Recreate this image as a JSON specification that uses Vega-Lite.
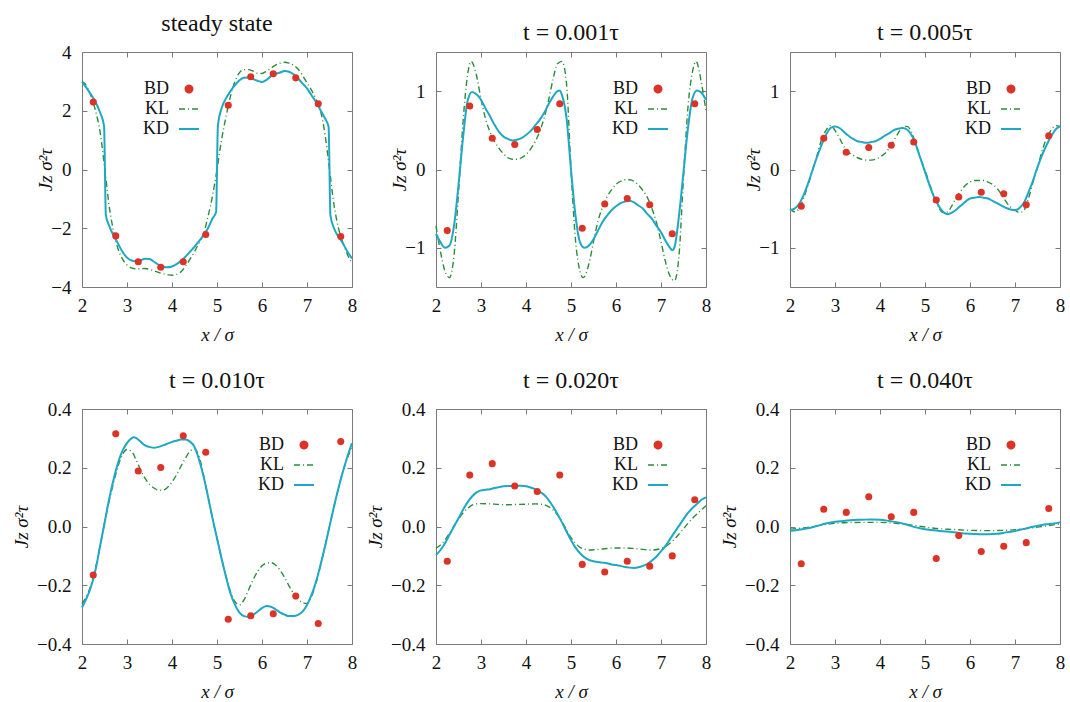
{
"$schema": "https://vega.github.io/schema/vega-lite/v6.json",
"autosize": {"type": "pad"},
"padding": {"left": 12, "top": 11, "right": 0, "bottom": 0},
"background": "white",
"columns": 3,
"spacing": {"row": 122, "column": 84},
"bounds": "flush",
"resolve": {"scale": {"color": "independent", "x": "independent", "y": "independent"}, "legend": {"color": "independent"}},
"data": {"values": [
{"p":1,"s":"BD","x":2.25,"y":2.3},{"p":1,"s":"BD","x":2.75,"y":-2.26},{"p":1,"s":"BD","x":3.25,"y":-3.14},{"p":1,"s":"BD","x":3.75,"y":-3.33},{"p":1,"s":"BD","x":4.25,"y":-3.14},{"p":1,"s":"BD","x":4.75,"y":-2.21},{"p":1,"s":"BD","x":5.25,"y":2.19},{"p":1,"s":"BD","x":5.75,"y":3.16},{"p":1,"s":"BD","x":6.25,"y":3.26},{"p":1,"s":"BD","x":6.75,"y":3.12},{"p":1,"s":"BD","x":7.25,"y":2.24},{"p":1,"s":"BD","x":7.75,"y":-2.28},
{"p":1,"s":"KD","x":2,"y":2.98},{"p":1,"s":"KD","x":2.1,"y":2.78},{"p":1,"s":"KD","x":2.2,"y":2.55},{"p":1,"s":"KD","x":2.3,"y":2.3},{"p":1,"s":"KD","x":2.4,"y":1.95},{"p":1,"s":"KD","x":2.49,"y":1.48},{"p":1,"s":"KD","x":2.53,"y":-1.55},{"p":1,"s":"KD","x":2.6,"y":-1.9},{"p":1,"s":"KD","x":2.7,"y":-2.24},{"p":1,"s":"KD","x":2.8,"y":-2.52},{"p":1,"s":"KD","x":2.9,"y":-2.8},{"p":1,"s":"KD","x":3.0,"y":-3.0},{"p":1,"s":"KD","x":3.1,"y":-3.1},{"p":1,"s":"KD","x":3.2,"y":-3.12},{"p":1,"s":"KD","x":3.3,"y":-3.09},{"p":1,"s":"KD","x":3.4,"y":-3.04},{"p":1,"s":"KD","x":3.5,"y":-3.05},{"p":1,"s":"KD","x":3.6,"y":-3.14},{"p":1,"s":"KD","x":3.7,"y":-3.24},{"p":1,"s":"KD","x":3.8,"y":-3.3},{"p":1,"s":"KD","x":3.9,"y":-3.33},{"p":1,"s":"KD","x":4.0,"y":-3.3},{"p":1,"s":"KD","x":4.1,"y":-3.22},{"p":1,"s":"KD","x":4.2,"y":-3.11},{"p":1,"s":"KD","x":4.3,"y":-2.97},{"p":1,"s":"KD","x":4.4,"y":-2.8},{"p":1,"s":"KD","x":4.5,"y":-2.63},{"p":1,"s":"KD","x":4.6,"y":-2.44},{"p":1,"s":"KD","x":4.7,"y":-2.24},{"p":1,"s":"KD","x":4.8,"y":-2.0},{"p":1,"s":"KD","x":4.9,"y":-1.67},{"p":1,"s":"KD","x":4.98,"y":-1.45},{"p":1,"s":"KD","x":5.02,"y":1.5},{"p":1,"s":"KD","x":5.1,"y":2.08},{"p":1,"s":"KD","x":5.2,"y":2.42},{"p":1,"s":"KD","x":5.3,"y":2.67},{"p":1,"s":"KD","x":5.4,"y":2.87},{"p":1,"s":"KD","x":5.5,"y":3.04},{"p":1,"s":"KD","x":5.6,"y":3.12},{"p":1,"s":"KD","x":5.7,"y":3.13},{"p":1,"s":"KD","x":5.8,"y":3.08},{"p":1,"s":"KD","x":5.9,"y":3.02},{"p":1,"s":"KD","x":6.0,"y":2.98},{"p":1,"s":"KD","x":6.1,"y":3.05},{"p":1,"s":"KD","x":6.2,"y":3.18},{"p":1,"s":"KD","x":6.3,"y":3.25},{"p":1,"s":"KD","x":6.4,"y":3.3},{"p":1,"s":"KD","x":6.5,"y":3.35},{"p":1,"s":"KD","x":6.6,"y":3.33},{"p":1,"s":"KD","x":6.7,"y":3.24},{"p":1,"s":"KD","x":6.8,"y":3.1},{"p":1,"s":"KD","x":6.9,"y":2.93},{"p":1,"s":"KD","x":7.0,"y":2.76},{"p":1,"s":"KD","x":7.1,"y":2.53},{"p":1,"s":"KD","x":7.2,"y":2.3},{"p":1,"s":"KD","x":7.3,"y":2.02},{"p":1,"s":"KD","x":7.4,"y":1.74},{"p":1,"s":"KD","x":7.48,"y":1.45},{"p":1,"s":"KD","x":7.52,"y":-1.55},{"p":1,"s":"KD","x":7.6,"y":-2.0},{"p":1,"s":"KD","x":7.7,"y":-2.29},{"p":1,"s":"KD","x":7.8,"y":-2.52},{"p":1,"s":"KD","x":7.9,"y":-2.8},{"p":1,"s":"KD","x":8.0,"y":-3.03},
{"p":1,"s":"KL","x":2,"y":3.0},{"p":1,"s":"KL","x":2.1,"y":2.85},{"p":1,"s":"KL","x":2.2,"y":2.5},{"p":1,"s":"KL","x":2.3,"y":2.0},{"p":1,"s":"KL","x":2.4,"y":1.3},{"p":1,"s":"KL","x":2.5,"y":0.1},{"p":1,"s":"KL","x":2.6,"y":-1.2},{"p":1,"s":"KL","x":2.7,"y":-2.1},{"p":1,"s":"KL","x":2.8,"y":-2.7},{"p":1,"s":"KL","x":2.9,"y":-3.05},{"p":1,"s":"KL","x":3.0,"y":-3.25},{"p":1,"s":"KL","x":3.1,"y":-3.35},{"p":1,"s":"KL","x":3.2,"y":-3.38},{"p":1,"s":"KL","x":3.3,"y":-3.38},{"p":1,"s":"KL","x":3.4,"y":-3.37},{"p":1,"s":"KL","x":3.5,"y":-3.4},{"p":1,"s":"KL","x":3.6,"y":-3.45},{"p":1,"s":"KL","x":3.7,"y":-3.5},{"p":1,"s":"KL","x":3.8,"y":-3.55},{"p":1,"s":"KL","x":3.9,"y":-3.58},{"p":1,"s":"KL","x":4.0,"y":-3.6},{"p":1,"s":"KL","x":4.1,"y":-3.57},{"p":1,"s":"KL","x":4.2,"y":-3.48},{"p":1,"s":"KL","x":4.3,"y":-3.3},{"p":1,"s":"KL","x":4.4,"y":-3.05},{"p":1,"s":"KL","x":4.5,"y":-2.8},{"p":1,"s":"KL","x":4.6,"y":-2.5},{"p":1,"s":"KL","x":4.7,"y":-2.2},{"p":1,"s":"KL","x":4.8,"y":-1.6},{"p":1,"s":"KL","x":4.9,"y":-0.9},{"p":1,"s":"KL","x":5.0,"y":0.0},{"p":1,"s":"KL","x":5.1,"y":1.0},{"p":1,"s":"KL","x":5.2,"y":1.8},{"p":1,"s":"KL","x":5.3,"y":2.5},{"p":1,"s":"KL","x":5.4,"y":3.0},{"p":1,"s":"KL","x":5.5,"y":3.3},{"p":1,"s":"KL","x":5.6,"y":3.4},{"p":1,"s":"KL","x":5.7,"y":3.4},{"p":1,"s":"KL","x":5.8,"y":3.35},{"p":1,"s":"KL","x":5.9,"y":3.28},{"p":1,"s":"KL","x":6.0,"y":3.27},{"p":1,"s":"KL","x":6.1,"y":3.35},{"p":1,"s":"KL","x":6.2,"y":3.45},{"p":1,"s":"KL","x":6.3,"y":3.55},{"p":1,"s":"KL","x":6.4,"y":3.62},{"p":1,"s":"KL","x":6.5,"y":3.65},{"p":1,"s":"KL","x":6.6,"y":3.62},{"p":1,"s":"KL","x":6.7,"y":3.55},{"p":1,"s":"KL","x":6.8,"y":3.42},{"p":1,"s":"KL","x":6.9,"y":3.2},{"p":1,"s":"KL","x":7.0,"y":2.95},{"p":1,"s":"KL","x":7.1,"y":2.7},{"p":1,"s":"KL","x":7.2,"y":2.4},{"p":1,"s":"KL","x":7.3,"y":2.0},{"p":1,"s":"KL","x":7.4,"y":1.2},{"p":1,"s":"KL","x":7.5,"y":0.0},{"p":1,"s":"KL","x":7.6,"y":-1.2},{"p":1,"s":"KL","x":7.7,"y":-2.0},{"p":1,"s":"KL","x":7.8,"y":-2.5},{"p":1,"s":"KL","x":7.9,"y":-2.9},{"p":1,"s":"KL","x":8.0,"y":-3.2},
{"p":2,"s":"BD","x":2.25,"y":-0.78},{"p":2,"s":"BD","x":2.75,"y":0.81},{"p":2,"s":"BD","x":3.25,"y":0.4},{"p":2,"s":"BD","x":3.75,"y":0.32},{"p":2,"s":"BD","x":4.25,"y":0.51},{"p":2,"s":"BD","x":4.75,"y":0.84},{"p":2,"s":"BD","x":5.25,"y":-0.75},{"p":2,"s":"BD","x":5.75,"y":-0.44},{"p":2,"s":"BD","x":6.25,"y":-0.37},{"p":2,"s":"BD","x":6.75,"y":-0.45},{"p":2,"s":"BD","x":7.25,"y":-0.82},{"p":2,"s":"BD","x":7.75,"y":0.84},
{"p":2,"s":"KD","x":2,"y":-0.82},{"p":2,"s":"KD","x":2.1,"y":-0.93},{"p":2,"s":"KD","x":2.2,"y":-1.0},{"p":2,"s":"KD","x":2.3,"y":-0.97},{"p":2,"s":"KD","x":2.4,"y":-0.72},{"p":2,"s":"KD","x":2.5,"y":-0.2},{"p":2,"s":"KD","x":2.6,"y":0.4},{"p":2,"s":"KD","x":2.7,"y":0.87},{"p":2,"s":"KD","x":2.8,"y":0.99},{"p":2,"s":"KD","x":2.9,"y":0.96},{"p":2,"s":"KD","x":3.0,"y":0.89},{"p":2,"s":"KD","x":3.1,"y":0.78},{"p":2,"s":"KD","x":3.2,"y":0.68},{"p":2,"s":"KD","x":3.3,"y":0.57},{"p":2,"s":"KD","x":3.4,"y":0.48},{"p":2,"s":"KD","x":3.5,"y":0.42},{"p":2,"s":"KD","x":3.6,"y":0.39},{"p":2,"s":"KD","x":3.7,"y":0.37},{"p":2,"s":"KD","x":3.8,"y":0.38},{"p":2,"s":"KD","x":3.9,"y":0.4},{"p":2,"s":"KD","x":4.0,"y":0.44},{"p":2,"s":"KD","x":4.1,"y":0.49},{"p":2,"s":"KD","x":4.2,"y":0.56},{"p":2,"s":"KD","x":4.3,"y":0.63},{"p":2,"s":"KD","x":4.4,"y":0.72},{"p":2,"s":"KD","x":4.5,"y":0.83},{"p":2,"s":"KD","x":4.6,"y":0.93},{"p":2,"s":"KD","x":4.7,"y":1.0},{"p":2,"s":"KD","x":4.75,"y":1.01},{"p":2,"s":"KD","x":4.8,"y":0.95},{"p":2,"s":"KD","x":4.9,"y":0.66},{"p":2,"s":"KD","x":5.0,"y":0.0},{"p":2,"s":"KD","x":5.1,"y":-0.59},{"p":2,"s":"KD","x":5.2,"y":-0.93},{"p":2,"s":"KD","x":5.3,"y":-1.0},{"p":2,"s":"KD","x":5.4,"y":-0.97},{"p":2,"s":"KD","x":5.5,"y":-0.89},{"p":2,"s":"KD","x":5.6,"y":-0.78},{"p":2,"s":"KD","x":5.7,"y":-0.67},{"p":2,"s":"KD","x":5.8,"y":-0.59},{"p":2,"s":"KD","x":5.9,"y":-0.52},{"p":2,"s":"KD","x":6.0,"y":-0.47},{"p":2,"s":"KD","x":6.1,"y":-0.43},{"p":2,"s":"KD","x":6.2,"y":-0.41},{"p":2,"s":"KD","x":6.3,"y":-0.4},{"p":2,"s":"KD","x":6.4,"y":-0.42},{"p":2,"s":"KD","x":6.5,"y":-0.46},{"p":2,"s":"KD","x":6.6,"y":-0.5},{"p":2,"s":"KD","x":6.7,"y":-0.57},{"p":2,"s":"KD","x":6.8,"y":-0.63},{"p":2,"s":"KD","x":6.9,"y":-0.72},{"p":2,"s":"KD","x":7.0,"y":-0.8},{"p":2,"s":"KD","x":7.1,"y":-0.91},{"p":2,"s":"KD","x":7.2,"y":-1.0},{"p":2,"s":"KD","x":7.25,"y":-1.03},{"p":2,"s":"KD","x":7.3,"y":-0.99},{"p":2,"s":"KD","x":7.4,"y":-0.59},{"p":2,"s":"KD","x":7.5,"y":-0.03},{"p":2,"s":"KD","x":7.6,"y":0.53},{"p":2,"s":"KD","x":7.7,"y":0.91},{"p":2,"s":"KD","x":7.8,"y":1.01},{"p":2,"s":"KD","x":7.9,"y":0.98},{"p":2,"s":"KD","x":8.0,"y":0.89},
{"p":2,"s":"KL","x":2,"y":-0.72},{"p":2,"s":"KL","x":2.1,"y":-1.05},{"p":2,"s":"KL","x":2.2,"y":-1.3},{"p":2,"s":"KL","x":2.3,"y":-1.38},{"p":2,"s":"KL","x":2.4,"y":-1.1},{"p":2,"s":"KL","x":2.5,"y":-0.3},{"p":2,"s":"KL","x":2.6,"y":0.6},{"p":2,"s":"KL","x":2.7,"y":1.2},{"p":2,"s":"KL","x":2.78,"y":1.38},{"p":2,"s":"KL","x":2.9,"y":1.2},{"p":2,"s":"KL","x":3.0,"y":0.9},{"p":2,"s":"KL","x":3.1,"y":0.65},{"p":2,"s":"KL","x":3.2,"y":0.48},{"p":2,"s":"KL","x":3.3,"y":0.36},{"p":2,"s":"KL","x":3.4,"y":0.27},{"p":2,"s":"KL","x":3.5,"y":0.2},{"p":2,"s":"KL","x":3.6,"y":0.15},{"p":2,"s":"KL","x":3.7,"y":0.13},{"p":2,"s":"KL","x":3.8,"y":0.13},{"p":2,"s":"KL","x":3.9,"y":0.15},{"p":2,"s":"KL","x":4.0,"y":0.19},{"p":2,"s":"KL","x":4.1,"y":0.26},{"p":2,"s":"KL","x":4.2,"y":0.35},{"p":2,"s":"KL","x":4.3,"y":0.48},{"p":2,"s":"KL","x":4.4,"y":0.65},{"p":2,"s":"KL","x":4.5,"y":0.88},{"p":2,"s":"KL","x":4.6,"y":1.15},{"p":2,"s":"KL","x":4.7,"y":1.35},{"p":2,"s":"KL","x":4.8,"y":1.38},{"p":2,"s":"KL","x":4.9,"y":1.1},{"p":2,"s":"KL","x":5.0,"y":0.0},{"p":2,"s":"KL","x":5.1,"y":-0.9},{"p":2,"s":"KL","x":5.2,"y":-1.3},{"p":2,"s":"KL","x":5.27,"y":-1.38},{"p":2,"s":"KL","x":5.4,"y":-1.2},{"p":2,"s":"KL","x":5.5,"y":-0.92},{"p":2,"s":"KL","x":5.6,"y":-0.66},{"p":2,"s":"KL","x":5.7,"y":-0.48},{"p":2,"s":"KL","x":5.8,"y":-0.35},{"p":2,"s":"KL","x":5.9,"y":-0.26},{"p":2,"s":"KL","x":6.0,"y":-0.19},{"p":2,"s":"KL","x":6.1,"y":-0.15},{"p":2,"s":"KL","x":6.2,"y":-0.13},{"p":2,"s":"KL","x":6.3,"y":-0.13},{"p":2,"s":"KL","x":6.4,"y":-0.15},{"p":2,"s":"KL","x":6.5,"y":-0.2},{"p":2,"s":"KL","x":6.6,"y":-0.27},{"p":2,"s":"KL","x":6.7,"y":-0.36},{"p":2,"s":"KL","x":6.8,"y":-0.5},{"p":2,"s":"KL","x":6.9,"y":-0.68},{"p":2,"s":"KL","x":7.0,"y":-0.92},{"p":2,"s":"KL","x":7.1,"y":-1.18},{"p":2,"s":"KL","x":7.2,"y":-1.36},{"p":2,"s":"KL","x":7.3,"y":-1.42},{"p":2,"s":"KL","x":7.4,"y":-1.1},{"p":2,"s":"KL","x":7.5,"y":-0.1},{"p":2,"s":"KL","x":7.6,"y":0.8},{"p":2,"s":"KL","x":7.7,"y":1.25},{"p":2,"s":"KL","x":7.78,"y":1.38},{"p":2,"s":"KL","x":7.9,"y":1.1},{"p":2,"s":"KL","x":8.0,"y":0.75},
{"p":3,"s":"BD","x":2.25,"y":-0.47},{"p":3,"s":"BD","x":2.75,"y":0.4},{"p":3,"s":"BD","x":3.25,"y":0.22},{"p":3,"s":"BD","x":3.75,"y":0.28},{"p":3,"s":"BD","x":4.25,"y":0.31},{"p":3,"s":"BD","x":4.75,"y":0.35},{"p":3,"s":"BD","x":5.25,"y":-0.39},{"p":3,"s":"BD","x":5.75,"y":-0.35},{"p":3,"s":"BD","x":6.25,"y":-0.29},{"p":3,"s":"BD","x":6.75,"y":-0.31},{"p":3,"s":"BD","x":7.25,"y":-0.45},{"p":3,"s":"BD","x":7.75,"y":0.43},
{"p":3,"s":"KD","x":2,"y":-0.52},{"p":3,"s":"KD","x":2.1,"y":-0.5},{"p":3,"s":"KD","x":2.2,"y":-0.44},{"p":3,"s":"KD","x":2.3,"y":-0.33},{"p":3,"s":"KD","x":2.4,"y":-0.18},{"p":3,"s":"KD","x":2.5,"y":-0.01},{"p":3,"s":"KD","x":2.6,"y":0.16},{"p":3,"s":"KD","x":2.7,"y":0.31},{"p":3,"s":"KD","x":2.8,"y":0.44},{"p":3,"s":"KD","x":2.9,"y":0.53},{"p":3,"s":"KD","x":3.0,"y":0.55},{"p":3,"s":"KD","x":3.1,"y":0.53},{"p":3,"s":"KD","x":3.2,"y":0.48},{"p":3,"s":"KD","x":3.3,"y":0.43},{"p":3,"s":"KD","x":3.4,"y":0.39},{"p":3,"s":"KD","x":3.5,"y":0.36},{"p":3,"s":"KD","x":3.6,"y":0.35},{"p":3,"s":"KD","x":3.7,"y":0.34},{"p":3,"s":"KD","x":3.8,"y":0.35},{"p":3,"s":"KD","x":3.9,"y":0.36},{"p":3,"s":"KD","x":4.0,"y":0.39},{"p":3,"s":"KD","x":4.1,"y":0.43},{"p":3,"s":"KD","x":4.2,"y":0.46},{"p":3,"s":"KD","x":4.3,"y":0.5},{"p":3,"s":"KD","x":4.4,"y":0.52},{"p":3,"s":"KD","x":4.5,"y":0.53},{"p":3,"s":"KD","x":4.6,"y":0.51},{"p":3,"s":"KD","x":4.7,"y":0.44},{"p":3,"s":"KD","x":4.8,"y":0.31},{"p":3,"s":"KD","x":4.9,"y":0.14},{"p":3,"s":"KD","x":5.0,"y":-0.03},{"p":3,"s":"KD","x":5.1,"y":-0.2},{"p":3,"s":"KD","x":5.2,"y":-0.35},{"p":3,"s":"KD","x":5.3,"y":-0.46},{"p":3,"s":"KD","x":5.4,"y":-0.54},{"p":3,"s":"KD","x":5.5,"y":-0.57},{"p":3,"s":"KD","x":5.6,"y":-0.55},{"p":3,"s":"KD","x":5.7,"y":-0.51},{"p":3,"s":"KD","x":5.8,"y":-0.46},{"p":3,"s":"KD","x":5.9,"y":-0.41},{"p":3,"s":"KD","x":6.0,"y":-0.37},{"p":3,"s":"KD","x":6.1,"y":-0.36},{"p":3,"s":"KD","x":6.2,"y":-0.35},{"p":3,"s":"KD","x":6.3,"y":-0.36},{"p":3,"s":"KD","x":6.4,"y":-0.37},{"p":3,"s":"KD","x":6.5,"y":-0.4},{"p":3,"s":"KD","x":6.6,"y":-0.43},{"p":3,"s":"KD","x":6.7,"y":-0.46},{"p":3,"s":"KD","x":6.8,"y":-0.49},{"p":3,"s":"KD","x":6.9,"y":-0.51},{"p":3,"s":"KD","x":7.0,"y":-0.52},{"p":3,"s":"KD","x":7.1,"y":-0.49},{"p":3,"s":"KD","x":7.2,"y":-0.42},{"p":3,"s":"KD","x":7.3,"y":-0.29},{"p":3,"s":"KD","x":7.4,"y":-0.14},{"p":3,"s":"KD","x":7.5,"y":0.03},{"p":3,"s":"KD","x":7.6,"y":0.18},{"p":3,"s":"KD","x":7.7,"y":0.31},{"p":3,"s":"KD","x":7.8,"y":0.42},{"p":3,"s":"KD","x":7.9,"y":0.51},{"p":3,"s":"KD","x":8.0,"y":0.55},
{"p":3,"s":"KL","x":2,"y":-0.5},{"p":3,"s":"KL","x":2.1,"y":-0.54},{"p":3,"s":"KL","x":2.2,"y":-0.5},{"p":3,"s":"KL","x":2.3,"y":-0.37},{"p":3,"s":"KL","x":2.4,"y":-0.2},{"p":3,"s":"KL","x":2.5,"y":-0.01},{"p":3,"s":"KL","x":2.6,"y":0.18},{"p":3,"s":"KL","x":2.7,"y":0.38},{"p":3,"s":"KL","x":2.8,"y":0.5},{"p":3,"s":"KL","x":2.9,"y":0.56},{"p":3,"s":"KL","x":3.0,"y":0.5},{"p":3,"s":"KL","x":3.1,"y":0.4},{"p":3,"s":"KL","x":3.2,"y":0.29},{"p":3,"s":"KL","x":3.3,"y":0.22},{"p":3,"s":"KL","x":3.4,"y":0.18},{"p":3,"s":"KL","x":3.5,"y":0.15},{"p":3,"s":"KL","x":3.6,"y":0.13},{"p":3,"s":"KL","x":3.7,"y":0.12},{"p":3,"s":"KL","x":3.8,"y":0.12},{"p":3,"s":"KL","x":3.9,"y":0.13},{"p":3,"s":"KL","x":4.0,"y":0.16},{"p":3,"s":"KL","x":4.1,"y":0.2},{"p":3,"s":"KL","x":4.2,"y":0.27},{"p":3,"s":"KL","x":4.3,"y":0.36},{"p":3,"s":"KL","x":4.4,"y":0.46},{"p":3,"s":"KL","x":4.5,"y":0.54},{"p":3,"s":"KL","x":4.6,"y":0.55},{"p":3,"s":"KL","x":4.7,"y":0.48},{"p":3,"s":"KL","x":4.8,"y":0.31},{"p":3,"s":"KL","x":4.9,"y":0.14},{"p":3,"s":"KL","x":5.0,"y":-0.01},{"p":3,"s":"KL","x":5.1,"y":-0.18},{"p":3,"s":"KL","x":5.2,"y":-0.35},{"p":3,"s":"KL","x":5.3,"y":-0.48},{"p":3,"s":"KL","x":5.4,"y":-0.55},{"p":3,"s":"KL","x":5.5,"y":-0.54},{"p":3,"s":"KL","x":5.6,"y":-0.46},{"p":3,"s":"KL","x":5.7,"y":-0.35},{"p":3,"s":"KL","x":5.8,"y":-0.27},{"p":3,"s":"KL","x":5.9,"y":-0.2},{"p":3,"s":"KL","x":6.0,"y":-0.16},{"p":3,"s":"KL","x":6.1,"y":-0.14},{"p":3,"s":"KL","x":6.2,"y":-0.14},{"p":3,"s":"KL","x":6.3,"y":-0.14},{"p":3,"s":"KL","x":6.4,"y":-0.16},{"p":3,"s":"KL","x":6.5,"y":-0.19},{"p":3,"s":"KL","x":6.6,"y":-0.24},{"p":3,"s":"KL","x":6.7,"y":-0.32},{"p":3,"s":"KL","x":6.8,"y":-0.41},{"p":3,"s":"KL","x":6.9,"y":-0.48},{"p":3,"s":"KL","x":7.0,"y":-0.52},{"p":3,"s":"KL","x":7.1,"y":-0.55},{"p":3,"s":"KL","x":7.2,"y":-0.52},{"p":3,"s":"KL","x":7.3,"y":-0.37},{"p":3,"s":"KL","x":7.4,"y":-0.16},{"p":3,"s":"KL","x":7.5,"y":0.03},{"p":3,"s":"KL","x":7.6,"y":0.23},{"p":3,"s":"KL","x":7.7,"y":0.4},{"p":3,"s":"KL","x":7.8,"y":0.5},{"p":3,"s":"KL","x":7.9,"y":0.56},{"p":3,"s":"KL","x":8.0,"y":0.55},
{"p":4,"s":"BD","x":2.25,"y":-0.165},{"p":4,"s":"BD","x":2.75,"y":0.316},{"p":4,"s":"BD","x":3.25,"y":0.189},{"p":4,"s":"BD","x":3.75,"y":0.201},{"p":4,"s":"BD","x":4.25,"y":0.309},{"p":4,"s":"BD","x":4.75,"y":0.253},{"p":4,"s":"BD","x":5.25,"y":-0.316},{"p":4,"s":"BD","x":5.75,"y":-0.304},{"p":4,"s":"BD","x":6.25,"y":-0.297},{"p":4,"s":"BD","x":6.75,"y":-0.237},{"p":4,"s":"BD","x":7.25,"y":-0.33},{"p":4,"s":"BD","x":7.75,"y":0.289},
{"p":4,"s":"KD","x":2,"y":-0.276},{"p":4,"s":"KD","x":2.1,"y":-0.245},{"p":4,"s":"KD","x":2.2,"y":-0.205},{"p":4,"s":"KD","x":2.3,"y":-0.148},{"p":4,"s":"KD","x":2.4,"y":-0.068},{"p":4,"s":"KD","x":2.5,"y":0.011},{"p":4,"s":"KD","x":2.6,"y":0.091},{"p":4,"s":"KD","x":2.7,"y":0.159},{"p":4,"s":"KD","x":2.8,"y":0.216},{"p":4,"s":"KD","x":2.9,"y":0.258},{"p":4,"s":"KD","x":3.0,"y":0.284},{"p":4,"s":"KD","x":3.1,"y":0.3},{"p":4,"s":"KD","x":3.15,"y":0.304},{"p":4,"s":"KD","x":3.2,"y":0.302},{"p":4,"s":"KD","x":3.3,"y":0.289},{"p":4,"s":"KD","x":3.4,"y":0.276},{"p":4,"s":"KD","x":3.5,"y":0.271},{"p":4,"s":"KD","x":3.6,"y":0.268},{"p":4,"s":"KD","x":3.7,"y":0.271},{"p":4,"s":"KD","x":3.8,"y":0.276},{"p":4,"s":"KD","x":3.9,"y":0.282},{"p":4,"s":"KD","x":4.0,"y":0.288},{"p":4,"s":"KD","x":4.1,"y":0.292},{"p":4,"s":"KD","x":4.2,"y":0.296},{"p":4,"s":"KD","x":4.3,"y":0.296},{"p":4,"s":"KD","x":4.4,"y":0.289},{"p":4,"s":"KD","x":4.5,"y":0.271},{"p":4,"s":"KD","x":4.6,"y":0.228},{"p":4,"s":"KD","x":4.7,"y":0.171},{"p":4,"s":"KD","x":4.8,"y":0.102},{"p":4,"s":"KD","x":4.9,"y":0.028},{"p":4,"s":"KD","x":5.0,"y":-0.04},{"p":4,"s":"KD","x":5.1,"y":-0.108},{"p":4,"s":"KD","x":5.2,"y":-0.171},{"p":4,"s":"KD","x":5.3,"y":-0.228},{"p":4,"s":"KD","x":5.4,"y":-0.267},{"p":4,"s":"KD","x":5.5,"y":-0.293},{"p":4,"s":"KD","x":5.6,"y":-0.305},{"p":4,"s":"KD","x":5.7,"y":-0.307},{"p":4,"s":"KD","x":5.8,"y":-0.301},{"p":4,"s":"KD","x":5.9,"y":-0.29},{"p":4,"s":"KD","x":6.0,"y":-0.278},{"p":4,"s":"KD","x":6.1,"y":-0.271},{"p":4,"s":"KD","x":6.2,"y":-0.273},{"p":4,"s":"KD","x":6.3,"y":-0.282},{"p":4,"s":"KD","x":6.4,"y":-0.292},{"p":4,"s":"KD","x":6.5,"y":-0.3},{"p":4,"s":"KD","x":6.6,"y":-0.305},{"p":4,"s":"KD","x":6.7,"y":-0.305},{"p":4,"s":"KD","x":6.8,"y":-0.301},{"p":4,"s":"KD","x":6.9,"y":-0.29},{"p":4,"s":"KD","x":7.0,"y":-0.267},{"p":4,"s":"KD","x":7.1,"y":-0.233},{"p":4,"s":"KD","x":7.2,"y":-0.188},{"p":4,"s":"KD","x":7.3,"y":-0.131},{"p":4,"s":"KD","x":7.4,"y":-0.068},{"p":4,"s":"KD","x":7.5,"y":0.0},{"p":4,"s":"KD","x":7.6,"y":0.068},{"p":4,"s":"KD","x":7.7,"y":0.131},{"p":4,"s":"KD","x":7.8,"y":0.188},{"p":4,"s":"KD","x":7.9,"y":0.239},{"p":4,"s":"KD","x":8.0,"y":0.284},
{"p":4,"s":"KL","x":2,"y":-0.262},{"p":4,"s":"KL","x":2.1,"y":-0.239},{"p":4,"s":"KL","x":2.2,"y":-0.199},{"p":4,"s":"KL","x":2.3,"y":-0.142},{"p":4,"s":"KL","x":2.4,"y":-0.068},{"p":4,"s":"KL","x":2.5,"y":0.011},{"p":4,"s":"KL","x":2.6,"y":0.085},{"p":4,"s":"KL","x":2.7,"y":0.148},{"p":4,"s":"KL","x":2.8,"y":0.205},{"p":4,"s":"KL","x":2.9,"y":0.245},{"p":4,"s":"KL","x":3.0,"y":0.262},{"p":4,"s":"KL","x":3.1,"y":0.256},{"p":4,"s":"KL","x":3.2,"y":0.228},{"p":4,"s":"KL","x":3.3,"y":0.193},{"p":4,"s":"KL","x":3.4,"y":0.165},{"p":4,"s":"KL","x":3.5,"y":0.144},{"p":4,"s":"KL","x":3.6,"y":0.131},{"p":4,"s":"KL","x":3.7,"y":0.124},{"p":4,"s":"KL","x":3.8,"y":0.124},{"p":4,"s":"KL","x":3.9,"y":0.133},{"p":4,"s":"KL","x":4.0,"y":0.151},{"p":4,"s":"KL","x":4.1,"y":0.176},{"p":4,"s":"KL","x":4.2,"y":0.205},{"p":4,"s":"KL","x":4.3,"y":0.233},{"p":4,"s":"KL","x":4.4,"y":0.256},{"p":4,"s":"KL","x":4.5,"y":0.264},{"p":4,"s":"KL","x":4.6,"y":0.239},{"p":4,"s":"KL","x":4.7,"y":0.176},{"p":4,"s":"KL","x":4.8,"y":0.102},{"p":4,"s":"KL","x":4.9,"y":0.028},{"p":4,"s":"KL","x":5.0,"y":-0.04},{"p":4,"s":"KL","x":5.1,"y":-0.108},{"p":4,"s":"KL","x":5.2,"y":-0.171},{"p":4,"s":"KL","x":5.3,"y":-0.222},{"p":4,"s":"KL","x":5.4,"y":-0.256},{"p":4,"s":"KL","x":5.5,"y":-0.267},{"p":4,"s":"KL","x":5.6,"y":-0.25},{"p":4,"s":"KL","x":5.7,"y":-0.216},{"p":4,"s":"KL","x":5.8,"y":-0.182},{"p":4,"s":"KL","x":5.9,"y":-0.154},{"p":4,"s":"KL","x":6.0,"y":-0.134},{"p":4,"s":"KL","x":6.1,"y":-0.125},{"p":4,"s":"KL","x":6.2,"y":-0.123},{"p":4,"s":"KL","x":6.3,"y":-0.131},{"p":4,"s":"KL","x":6.4,"y":-0.148},{"p":4,"s":"KL","x":6.5,"y":-0.173},{"p":4,"s":"KL","x":6.6,"y":-0.202},{"p":4,"s":"KL","x":6.7,"y":-0.228},{"p":4,"s":"KL","x":6.8,"y":-0.248},{"p":4,"s":"KL","x":6.9,"y":-0.259},{"p":4,"s":"KL","x":7.0,"y":-0.262},{"p":4,"s":"KL","x":7.1,"y":-0.239},{"p":4,"s":"KL","x":7.2,"y":-0.193},{"p":4,"s":"KL","x":7.3,"y":-0.134},{"p":4,"s":"KL","x":7.4,"y":-0.068},{"p":4,"s":"KL","x":7.5,"y":0.0},{"p":4,"s":"KL","x":7.6,"y":0.068},{"p":4,"s":"KL","x":7.7,"y":0.131},{"p":4,"s":"KL","x":7.8,"y":0.188},{"p":4,"s":"KL","x":7.9,"y":0.233},{"p":4,"s":"KL","x":8.0,"y":0.273},
{"p":5,"s":"BD","x":2.25,"y":-0.118},{"p":5,"s":"BD","x":2.75,"y":0.175},{"p":5,"s":"BD","x":3.25,"y":0.214},{"p":5,"s":"BD","x":3.75,"y":0.138},{"p":5,"s":"BD","x":4.25,"y":0.119},{"p":5,"s":"BD","x":4.75,"y":0.175},{"p":5,"s":"BD","x":5.25,"y":-0.129},{"p":5,"s":"BD","x":5.75,"y":-0.155},{"p":5,"s":"BD","x":6.25,"y":-0.118},{"p":5,"s":"BD","x":6.75,"y":-0.135},{"p":5,"s":"BD","x":7.25,"y":-0.1},{"p":5,"s":"BD","x":7.75,"y":0.091},
{"p":5,"s":"KD","x":2,"y":-0.097},{"p":5,"s":"KD","x":2.1,"y":-0.08},{"p":5,"s":"KD","x":2.2,"y":-0.057},{"p":5,"s":"KD","x":2.3,"y":-0.028},{"p":5,"s":"KD","x":2.4,"y":0.0},{"p":5,"s":"KD","x":2.5,"y":0.028},{"p":5,"s":"KD","x":2.6,"y":0.057},{"p":5,"s":"KD","x":2.7,"y":0.082},{"p":5,"s":"KD","x":2.8,"y":0.102},{"p":5,"s":"KD","x":2.9,"y":0.116},{"p":5,"s":"KD","x":3.0,"y":0.123},{"p":5,"s":"KD","x":3.1,"y":0.125},{"p":5,"s":"KD","x":3.2,"y":0.127},{"p":5,"s":"KD","x":3.3,"y":0.131},{"p":5,"s":"KD","x":3.4,"y":0.134},{"p":5,"s":"KD","x":3.5,"y":0.137},{"p":5,"s":"KD","x":3.6,"y":0.138},{"p":5,"s":"KD","x":3.7,"y":0.138},{"p":5,"s":"KD","x":3.8,"y":0.139},{"p":5,"s":"KD","x":3.9,"y":0.139},{"p":5,"s":"KD","x":4.0,"y":0.137},{"p":5,"s":"KD","x":4.1,"y":0.133},{"p":5,"s":"KD","x":4.2,"y":0.127},{"p":5,"s":"KD","x":4.3,"y":0.119},{"p":5,"s":"KD","x":4.4,"y":0.108},{"p":5,"s":"KD","x":4.5,"y":0.091},{"p":5,"s":"KD","x":4.6,"y":0.068},{"p":5,"s":"KD","x":4.7,"y":0.042},{"p":5,"s":"KD","x":4.8,"y":0.014},{"p":5,"s":"KD","x":4.9,"y":-0.017},{"p":5,"s":"KD","x":5.0,"y":-0.046},{"p":5,"s":"KD","x":5.1,"y":-0.072},{"p":5,"s":"KD","x":5.2,"y":-0.091},{"p":5,"s":"KD","x":5.3,"y":-0.105},{"p":5,"s":"KD","x":5.4,"y":-0.114},{"p":5,"s":"KD","x":5.5,"y":-0.118},{"p":5,"s":"KD","x":5.6,"y":-0.121},{"p":5,"s":"KD","x":5.7,"y":-0.123},{"p":5,"s":"KD","x":5.8,"y":-0.125},{"p":5,"s":"KD","x":5.9,"y":-0.129},{"p":5,"s":"KD","x":6.0,"y":-0.131},{"p":5,"s":"KD","x":6.1,"y":-0.134},{"p":5,"s":"KD","x":6.2,"y":-0.138},{"p":5,"s":"KD","x":6.3,"y":-0.14},{"p":5,"s":"KD","x":6.4,"y":-0.141},{"p":5,"s":"KD","x":6.5,"y":-0.139},{"p":5,"s":"KD","x":6.6,"y":-0.134},{"p":5,"s":"KD","x":6.7,"y":-0.127},{"p":5,"s":"KD","x":6.8,"y":-0.116},{"p":5,"s":"KD","x":6.9,"y":-0.102},{"p":5,"s":"KD","x":7.0,"y":-0.085},{"p":5,"s":"KD","x":7.1,"y":-0.066},{"p":5,"s":"KD","x":7.2,"y":-0.043},{"p":5,"s":"KD","x":7.3,"y":-0.02},{"p":5,"s":"KD","x":7.4,"y":0.002},{"p":5,"s":"KD","x":7.5,"y":0.025},{"p":5,"s":"KD","x":7.6,"y":0.046},{"p":5,"s":"KD","x":7.7,"y":0.063},{"p":5,"s":"KD","x":7.8,"y":0.077},{"p":5,"s":"KD","x":7.9,"y":0.091},{"p":5,"s":"KD","x":8.0,"y":0.099},
{"p":5,"s":"KL","x":2,"y":-0.074},{"p":5,"s":"KL","x":2.1,"y":-0.063},{"p":5,"s":"KL","x":2.2,"y":-0.046},{"p":5,"s":"KL","x":2.3,"y":-0.023},{"p":5,"s":"KL","x":2.4,"y":0.002},{"p":5,"s":"KL","x":2.5,"y":0.025},{"p":5,"s":"KL","x":2.6,"y":0.046},{"p":5,"s":"KL","x":2.7,"y":0.061},{"p":5,"s":"KL","x":2.8,"y":0.073},{"p":5,"s":"KL","x":2.9,"y":0.077},{"p":5,"s":"KL","x":3.0,"y":0.078},{"p":5,"s":"KL","x":3.2,"y":0.077},{"p":5,"s":"KL","x":3.4,"y":0.075},{"p":5,"s":"KL","x":3.6,"y":0.074},{"p":5,"s":"KL","x":3.8,"y":0.075},{"p":5,"s":"KL","x":4.0,"y":0.076},{"p":5,"s":"KL","x":4.2,"y":0.077},{"p":5,"s":"KL","x":4.4,"y":0.074},{"p":5,"s":"KL","x":4.5,"y":0.068},{"p":5,"s":"KL","x":4.6,"y":0.057},{"p":5,"s":"KL","x":4.7,"y":0.04},{"p":5,"s":"KL","x":4.8,"y":0.017},{"p":5,"s":"KL","x":4.9,"y":-0.011},{"p":5,"s":"KL","x":5.0,"y":-0.038},{"p":5,"s":"KL","x":5.1,"y":-0.057},{"p":5,"s":"KL","x":5.2,"y":-0.071},{"p":5,"s":"KL","x":5.3,"y":-0.077},{"p":5,"s":"KL","x":5.4,"y":-0.08},{"p":5,"s":"KL","x":5.6,"y":-0.078},{"p":5,"s":"KL","x":5.8,"y":-0.075},{"p":5,"s":"KL","x":6.0,"y":-0.073},{"p":5,"s":"KL","x":6.2,"y":-0.073},{"p":5,"s":"KL","x":6.4,"y":-0.075},{"p":5,"s":"KL","x":6.6,"y":-0.078},{"p":5,"s":"KL","x":6.8,"y":-0.08},{"p":5,"s":"KL","x":7.0,"y":-0.075},{"p":5,"s":"KL","x":7.1,"y":-0.068},{"p":5,"s":"KL","x":7.2,"y":-0.057},{"p":5,"s":"KL","x":7.3,"y":-0.043},{"p":5,"s":"KL","x":7.4,"y":-0.026},{"p":5,"s":"KL","x":7.5,"y":-0.008},{"p":5,"s":"KL","x":7.6,"y":0.011},{"p":5,"s":"KL","x":7.7,"y":0.028},{"p":5,"s":"KL","x":7.8,"y":0.043},{"p":5,"s":"KL","x":7.9,"y":0.057},{"p":5,"s":"KL","x":8.0,"y":0.071},
{"p":6,"s":"BD","x":2.25,"y":-0.127},{"p":6,"s":"BD","x":2.75,"y":0.059},{"p":6,"s":"BD","x":3.25,"y":0.048},{"p":6,"s":"BD","x":3.75,"y":0.101},{"p":6,"s":"BD","x":4.25,"y":0.033},{"p":6,"s":"BD","x":4.75,"y":0.048},{"p":6,"s":"BD","x":5.25,"y":-0.109},{"p":6,"s":"BD","x":5.75,"y":-0.031},{"p":6,"s":"BD","x":6.25,"y":-0.085},{"p":6,"s":"BD","x":6.75,"y":-0.067},{"p":6,"s":"BD","x":7.25,"y":-0.055},{"p":6,"s":"BD","x":7.75,"y":0.061},
{"p":6,"s":"KD","x":2,"y":-0.015},{"p":6,"s":"KD","x":2.2,"y":-0.011},{"p":6,"s":"KD","x":2.4,"y":-0.006},{"p":6,"s":"KD","x":2.6,"y":0.002},{"p":6,"s":"KD","x":2.8,"y":0.01},{"p":6,"s":"KD","x":3.0,"y":0.016},{"p":6,"s":"KD","x":3.2,"y":0.019},{"p":6,"s":"KD","x":3.4,"y":0.022},{"p":6,"s":"KD","x":3.6,"y":0.023},{"p":6,"s":"KD","x":3.8,"y":0.024},{"p":6,"s":"KD","x":4.0,"y":0.023},{"p":6,"s":"KD","x":4.2,"y":0.019},{"p":6,"s":"KD","x":4.4,"y":0.014},{"p":6,"s":"KD","x":4.6,"y":0.006},{"p":6,"s":"KD","x":4.8,"y":-0.003},{"p":6,"s":"KD","x":5.0,"y":-0.009},{"p":6,"s":"KD","x":5.2,"y":-0.013},{"p":6,"s":"KD","x":5.4,"y":-0.016},{"p":6,"s":"KD","x":5.6,"y":-0.019},{"p":6,"s":"KD","x":5.8,"y":-0.023},{"p":6,"s":"KD","x":6.0,"y":-0.025},{"p":6,"s":"KD","x":6.2,"y":-0.026},{"p":6,"s":"KD","x":6.4,"y":-0.026},{"p":6,"s":"KD","x":6.6,"y":-0.025},{"p":6,"s":"KD","x":6.8,"y":-0.02},{"p":6,"s":"KD","x":7.0,"y":-0.015},{"p":6,"s":"KD","x":7.2,"y":-0.008},{"p":6,"s":"KD","x":7.4,"y":-0.001},{"p":6,"s":"KD","x":7.6,"y":0.005},{"p":6,"s":"KD","x":7.8,"y":0.009},{"p":6,"s":"KD","x":8.0,"y":0.014},
{"p":6,"s":"KL","x":2,"y":-0.009},{"p":6,"s":"KL","x":2.4,"y":-0.003},{"p":6,"s":"KL","x":2.8,"y":0.007},{"p":6,"s":"KL","x":3.2,"y":0.013},{"p":6,"s":"KL","x":3.6,"y":0.014},{"p":6,"s":"KL","x":4.0,"y":0.014},{"p":6,"s":"KL","x":4.4,"y":0.01},{"p":6,"s":"KL","x":4.8,"y":0.003},{"p":6,"s":"KL","x":5.2,"y":-0.006},{"p":6,"s":"KL","x":5.6,"y":-0.01},{"p":6,"s":"KL","x":6.0,"y":-0.013},{"p":6,"s":"KL","x":6.4,"y":-0.014},{"p":6,"s":"KL","x":6.8,"y":-0.013},{"p":6,"s":"KL","x":7.2,"y":-0.008},{"p":6,"s":"KL","x":7.6,"y":0.0},{"p":6,"s":"KL","x":8.0,"y":0.009}
]},
"concat": [
{"title": {"text": "steady state", "fontWeight": 400, "fontSize": 24}, "width": 270, "height": 235, "transform": [{"filter": "datum.p == 1"}], "resolve": {"axis": {"x": "independent", "y": "independent"}},
 "layer": [
  {"transform": [{"filter": "datum.s == 'KL'"}], "mark": {"type": "line", "interpolate": "monotone", "strokeWidth": 1.4, "strokeDash": [6, 3, 1, 3]},
   "encoding": {"x": {"field": "x", "type": "quantitative", "scale": {"domain": [2, 8], "nice": false, "zero": false}, "axis": {"values": [2,3,4,5,6,7,8], "title": "x / σ"}},
    "y": {"field": "y", "type": "quantitative", "scale": {"domain": [-4, 4], "nice": false, "zero": false}, "axis": {"values": [-4,-2,0,2,4], "title": "Jz σ²τ", "titlePadding": -5}},
    "color": {"field": "s", "type": "nominal", "scale": {"domain": ["BD","KL","KD"], "range": ["#dd3326","#2e8b3a","#1fa8c4"]}, "legend": {"orient": "none", "legendX": 98, "legendY": 28, "title": null,
     "encode": {"symbols": {"update": {"shape": {"signal": "datum.value === 'BD' ? 'circle' : 'stroke'"}, "size": {"signal": "datum.value === 'BD' ? 55 : 400"}, "fill": {"signal": "datum.value === 'BD' ? '#dd3326' : 'transparent'"}, "stroke": {"signal": "datum.value === 'BD' ? 'transparent' : (datum.value === 'KL' ? '#2e8b3a' : '#1fa8c4')"}, "strokeDash": {"signal": "datum.value === 'KL' ? [6,3,1,3] : [1,0]"}, "strokeWidth": {"signal": "datum.value === 'KD' ? 2 : 1.5"}, "opacity": {"value": 1}}}}}}}},
  {"transform": [{"filter": "datum.s == 'KD'"}], "mark": {"type": "line", "interpolate": "monotone", "strokeWidth": 2},
   "encoding": {"x": {"field": "x", "type": "quantitative", "scale": {"domain": [2, 8], "nice": false, "zero": false}, "axis": {"orient": "top", "values": [2,3,4,5,6,7,8], "labels": false, "title": null}},
    "y": {"field": "y", "type": "quantitative", "scale": {"domain": [-4, 4], "nice": false, "zero": false}, "axis": {"orient": "right", "values": [-4,-2,0,2,4], "labels": false, "title": null}},
    "color": {"field": "s", "type": "nominal"}}},
  {"transform": [{"filter": "datum.s == 'BD'"}], "mark": {"type": "circle", "size": 50, "opacity": 1},
   "encoding": {"x": {"field": "x", "type": "quantitative", "axis": null}, "y": {"field": "y", "type": "quantitative", "axis": null}, "color": {"field": "s", "type": "nominal"}}}
 ]},
{"title": {"text": "t = 0.001τ", "fontWeight": 400, "fontSize": 24}, "width": 270, "height": 235, "transform": [{"filter": "datum.p == 2"}], "resolve": {"axis": {"x": "independent", "y": "independent"}},
 "layer": [
  {"transform": [{"filter": "datum.s == 'KL'"}], "mark": {"type": "line", "interpolate": "monotone", "strokeWidth": 1.4, "strokeDash": [6, 3, 1, 3]},
   "encoding": {"x": {"field": "x", "type": "quantitative", "scale": {"domain": [2, 8], "nice": false, "zero": false}, "axis": {"values": [2,3,4,5,6,7,8], "title": "x / σ"}},
    "y": {"field": "y", "type": "quantitative", "scale": {"domain": [-1.5, 1.5], "nice": false, "zero": false}, "axis": {"values": [-1,0,1], "title": "Jz σ²τ", "titlePadding": -5}},
    "color": {"field": "s", "type": "nominal", "scale": {"domain": ["BD","KL","KD"], "range": ["#dd3326","#2e8b3a","#1fa8c4"]}, "legend": {"orient": "none", "legendX": 213, "legendY": 28, "title": null,
     "encode": {"symbols": {"update": {"shape": {"signal": "datum.value === 'BD' ? 'circle' : 'stroke'"}, "size": {"signal": "datum.value === 'BD' ? 55 : 400"}, "fill": {"signal": "datum.value === 'BD' ? '#dd3326' : 'transparent'"}, "stroke": {"signal": "datum.value === 'BD' ? 'transparent' : (datum.value === 'KL' ? '#2e8b3a' : '#1fa8c4')"}, "strokeDash": {"signal": "datum.value === 'KL' ? [6,3,1,3] : [1,0]"}, "strokeWidth": {"signal": "datum.value === 'KD' ? 2 : 1.5"}, "opacity": {"value": 1}}}}}}}},
  {"transform": [{"filter": "datum.s == 'KD'"}], "mark": {"type": "line", "interpolate": "monotone", "strokeWidth": 2},
   "encoding": {"x": {"field": "x", "type": "quantitative", "scale": {"domain": [2, 8], "nice": false, "zero": false}, "axis": {"orient": "top", "values": [2,3,4,5,6,7,8], "labels": false, "title": null}},
    "y": {"field": "y", "type": "quantitative", "scale": {"domain": [-1.5, 1.5], "nice": false, "zero": false}, "axis": {"orient": "right", "values": [-1,0,1], "labels": false, "title": null}},
    "color": {"field": "s", "type": "nominal"}}},
  {"transform": [{"filter": "datum.s == 'BD'"}], "mark": {"type": "circle", "size": 50, "opacity": 1},
   "encoding": {"x": {"field": "x", "type": "quantitative", "axis": null}, "y": {"field": "y", "type": "quantitative", "axis": null}, "color": {"field": "s", "type": "nominal"}}}
 ]},
{"title": {"text": "t = 0.005τ", "fontWeight": 400, "fontSize": 24}, "width": 270, "height": 235, "transform": [{"filter": "datum.p == 3"}], "resolve": {"axis": {"x": "independent", "y": "independent"}},
 "layer": [
  {"transform": [{"filter": "datum.s == 'KL'"}], "mark": {"type": "line", "interpolate": "monotone", "strokeWidth": 1.4, "strokeDash": [6, 3, 1, 3]},
   "encoding": {"x": {"field": "x", "type": "quantitative", "scale": {"domain": [2, 8], "nice": false, "zero": false}, "axis": {"values": [2,3,4,5,6,7,8], "title": "x / σ"}},
    "y": {"field": "y", "type": "quantitative", "scale": {"domain": [-1.5, 1.5], "nice": false, "zero": false}, "axis": {"values": [-1,0,1], "title": "Jz σ²τ", "titlePadding": -5}},
    "color": {"field": "s", "type": "nominal", "scale": {"domain": ["BD","KL","KD"], "range": ["#dd3326","#2e8b3a","#1fa8c4"]}, "legend": {"orient": "none", "legendX": 212, "legendY": 28, "title": null,
     "encode": {"symbols": {"update": {"shape": {"signal": "datum.value === 'BD' ? 'circle' : 'stroke'"}, "size": {"signal": "datum.value === 'BD' ? 55 : 400"}, "fill": {"signal": "datum.value === 'BD' ? '#dd3326' : 'transparent'"}, "stroke": {"signal": "datum.value === 'BD' ? 'transparent' : (datum.value === 'KL' ? '#2e8b3a' : '#1fa8c4')"}, "strokeDash": {"signal": "datum.value === 'KL' ? [6,3,1,3] : [1,0]"}, "strokeWidth": {"signal": "datum.value === 'KD' ? 2 : 1.5"}, "opacity": {"value": 1}}}}}}}},
  {"transform": [{"filter": "datum.s == 'KD'"}], "mark": {"type": "line", "interpolate": "monotone", "strokeWidth": 2},
   "encoding": {"x": {"field": "x", "type": "quantitative", "scale": {"domain": [2, 8], "nice": false, "zero": false}, "axis": {"orient": "top", "values": [2,3,4,5,6,7,8], "labels": false, "title": null}},
    "y": {"field": "y", "type": "quantitative", "scale": {"domain": [-1.5, 1.5], "nice": false, "zero": false}, "axis": {"orient": "right", "values": [-1,0,1], "labels": false, "title": null}},
    "color": {"field": "s", "type": "nominal"}}},
  {"transform": [{"filter": "datum.s == 'BD'"}], "mark": {"type": "circle", "size": 50, "opacity": 1},
   "encoding": {"x": {"field": "x", "type": "quantitative", "axis": null}, "y": {"field": "y", "type": "quantitative", "axis": null}, "color": {"field": "s", "type": "nominal"}}}
 ]},
{"title": {"text": "t = 0.010τ", "fontWeight": 400, "fontSize": 24}, "width": 270, "height": 235, "transform": [{"filter": "datum.p == 4"}], "resolve": {"axis": {"x": "independent", "y": "independent"}},
 "layer": [
  {"transform": [{"filter": "datum.s == 'KL'"}], "mark": {"type": "line", "interpolate": "monotone", "strokeWidth": 1.4, "strokeDash": [6, 3, 1, 3]},
   "encoding": {"x": {"field": "x", "type": "quantitative", "scale": {"domain": [2, 8], "nice": false, "zero": false}, "axis": {"values": [2,3,4,5,6,7,8], "title": "x / σ"}},
    "y": {"field": "y", "type": "quantitative", "scale": {"domain": [-0.4, 0.4], "nice": false, "zero": false}, "axis": {"values": [-0.4,-0.2,0,0.2,0.4], "format": ".1f", "title": "Jz σ²τ", "titlePadding": 5}},
    "color": {"field": "s", "type": "nominal", "scale": {"domain": ["BD","KL","KD"], "range": ["#dd3326","#2e8b3a","#1fa8c4"]}, "legend": {"orient": "none", "legendX": 213, "legendY": 27, "title": null,
     "encode": {"symbols": {"update": {"shape": {"signal": "datum.value === 'BD' ? 'circle' : 'stroke'"}, "size": {"signal": "datum.value === 'BD' ? 55 : 400"}, "fill": {"signal": "datum.value === 'BD' ? '#dd3326' : 'transparent'"}, "stroke": {"signal": "datum.value === 'BD' ? 'transparent' : (datum.value === 'KL' ? '#2e8b3a' : '#1fa8c4')"}, "strokeDash": {"signal": "datum.value === 'KL' ? [6,3,1,3] : [1,0]"}, "strokeWidth": {"signal": "datum.value === 'KD' ? 2 : 1.5"}, "opacity": {"value": 1}}}}}}}},
  {"transform": [{"filter": "datum.s == 'KD'"}], "mark": {"type": "line", "interpolate": "monotone", "strokeWidth": 2},
   "encoding": {"x": {"field": "x", "type": "quantitative", "scale": {"domain": [2, 8], "nice": false, "zero": false}, "axis": {"orient": "top", "values": [2,3,4,5,6,7,8], "labels": false, "title": null}},
    "y": {"field": "y", "type": "quantitative", "scale": {"domain": [-0.4, 0.4], "nice": false, "zero": false}, "axis": {"orient": "right", "values": [-0.4,-0.2,0,0.2,0.4], "labels": false, "title": null}},
    "color": {"field": "s", "type": "nominal"}}},
  {"transform": [{"filter": "datum.s == 'BD'"}], "mark": {"type": "circle", "size": 50, "opacity": 1},
   "encoding": {"x": {"field": "x", "type": "quantitative", "axis": null}, "y": {"field": "y", "type": "quantitative", "axis": null}, "color": {"field": "s", "type": "nominal"}}}
 ]},
{"title": {"text": "t = 0.020τ", "fontWeight": 400, "fontSize": 24}, "width": 270, "height": 235, "transform": [{"filter": "datum.p == 5"}], "resolve": {"axis": {"x": "independent", "y": "independent"}},
 "layer": [
  {"transform": [{"filter": "datum.s == 'KL'"}], "mark": {"type": "line", "interpolate": "monotone", "strokeWidth": 1.4, "strokeDash": [6, 3, 1, 3]},
   "encoding": {"x": {"field": "x", "type": "quantitative", "scale": {"domain": [2, 8], "nice": false, "zero": false}, "axis": {"values": [2,3,4,5,6,7,8], "title": "x / σ"}},
    "y": {"field": "y", "type": "quantitative", "scale": {"domain": [-0.4, 0.4], "nice": false, "zero": false}, "axis": {"values": [-0.4,-0.2,0,0.2,0.4], "format": ".1f", "title": "Jz σ²τ", "titlePadding": 5}},
    "color": {"field": "s", "type": "nominal", "scale": {"domain": ["BD","KL","KD"], "range": ["#dd3326","#2e8b3a","#1fa8c4"]}, "legend": {"orient": "none", "legendX": 213, "legendY": 27, "title": null,
     "encode": {"symbols": {"update": {"shape": {"signal": "datum.value === 'BD' ? 'circle' : 'stroke'"}, "size": {"signal": "datum.value === 'BD' ? 55 : 400"}, "fill": {"signal": "datum.value === 'BD' ? '#dd3326' : 'transparent'"}, "stroke": {"signal": "datum.value === 'BD' ? 'transparent' : (datum.value === 'KL' ? '#2e8b3a' : '#1fa8c4')"}, "strokeDash": {"signal": "datum.value === 'KL' ? [6,3,1,3] : [1,0]"}, "strokeWidth": {"signal": "datum.value === 'KD' ? 2 : 1.5"}, "opacity": {"value": 1}}}}}}}},
  {"transform": [{"filter": "datum.s == 'KD'"}], "mark": {"type": "line", "interpolate": "monotone", "strokeWidth": 2},
   "encoding": {"x": {"field": "x", "type": "quantitative", "scale": {"domain": [2, 8], "nice": false, "zero": false}, "axis": {"orient": "top", "values": [2,3,4,5,6,7,8], "labels": false, "title": null}},
    "y": {"field": "y", "type": "quantitative", "scale": {"domain": [-0.4, 0.4], "nice": false, "zero": false}, "axis": {"orient": "right", "values": [-0.4,-0.2,0,0.2,0.4], "labels": false, "title": null}},
    "color": {"field": "s", "type": "nominal"}}},
  {"transform": [{"filter": "datum.s == 'BD'"}], "mark": {"type": "circle", "size": 50, "opacity": 1},
   "encoding": {"x": {"field": "x", "type": "quantitative", "axis": null}, "y": {"field": "y", "type": "quantitative", "axis": null}, "color": {"field": "s", "type": "nominal"}}}
 ]},
{"title": {"text": "t = 0.040τ", "fontWeight": 400, "fontSize": 24}, "width": 270, "height": 235, "transform": [{"filter": "datum.p == 6"}], "resolve": {"axis": {"x": "independent", "y": "independent"}},
 "layer": [
  {"transform": [{"filter": "datum.s == 'KL'"}], "mark": {"type": "line", "interpolate": "monotone", "strokeWidth": 1.4, "strokeDash": [6, 3, 1, 3]},
   "encoding": {"x": {"field": "x", "type": "quantitative", "scale": {"domain": [2, 8], "nice": false, "zero": false}, "axis": {"values": [2,3,4,5,6,7,8], "title": "x / σ"}},
    "y": {"field": "y", "type": "quantitative", "scale": {"domain": [-0.4, 0.4], "nice": false, "zero": false}, "axis": {"values": [-0.4,-0.2,0,0.2,0.4], "format": ".1f", "title": "Jz σ²τ", "titlePadding": 5}},
    "color": {"field": "s", "type": "nominal", "scale": {"domain": ["BD","KL","KD"], "range": ["#dd3326","#2e8b3a","#1fa8c4"]}, "legend": {"orient": "none", "legendX": 212, "legendY": 27, "title": null,
     "encode": {"symbols": {"update": {"shape": {"signal": "datum.value === 'BD' ? 'circle' : 'stroke'"}, "size": {"signal": "datum.value === 'BD' ? 55 : 400"}, "fill": {"signal": "datum.value === 'BD' ? '#dd3326' : 'transparent'"}, "stroke": {"signal": "datum.value === 'BD' ? 'transparent' : (datum.value === 'KL' ? '#2e8b3a' : '#1fa8c4')"}, "strokeDash": {"signal": "datum.value === 'KL' ? [6,3,1,3] : [1,0]"}, "strokeWidth": {"signal": "datum.value === 'KD' ? 2 : 1.5"}, "opacity": {"value": 1}}}}}}}},
  {"transform": [{"filter": "datum.s == 'KD'"}], "mark": {"type": "line", "interpolate": "monotone", "strokeWidth": 2},
   "encoding": {"x": {"field": "x", "type": "quantitative", "scale": {"domain": [2, 8], "nice": false, "zero": false}, "axis": {"orient": "top", "values": [2,3,4,5,6,7,8], "labels": false, "title": null}},
    "y": {"field": "y", "type": "quantitative", "scale": {"domain": [-0.4, 0.4], "nice": false, "zero": false}, "axis": {"orient": "right", "values": [-0.4,-0.2,0,0.2,0.4], "labels": false, "title": null}},
    "color": {"field": "s", "type": "nominal"}}},
  {"transform": [{"filter": "datum.s == 'BD'"}], "mark": {"type": "circle", "size": 50, "opacity": 1},
   "encoding": {"x": {"field": "x", "type": "quantitative", "axis": null}, "y": {"field": "y", "type": "quantitative", "axis": null}, "color": {"field": "s", "type": "nominal"}}}
 ]}
],
"config": {
 "font": "Liberation Serif",
 "view": {"stroke": "#7a7a7a", "strokeWidth": 1},
 "style": {"group-title": {"fontWeight": 400, "fontSize": 24}},
 "axis": {"domain": false, "grid": false, "tickSize": -5, "tickColor": "#7a7a7a", "tickWidth": 1, "labelFlush": false, "labelOverlap": false, "labelFont": "Liberation Serif", "labelFontSize": 19, "labelColor": "#111111", "titleFont": "Liberation Serif", "titleFontSize": 19, "titleFontStyle": "italic", "titleFontWeight": "normal", "titleColor": "#111111"},
 "axisX": {"labelPadding": 14, "titlePadding": 10},
 "axisY": {"labelPadding": 16},
 "title": {"font": "Liberation Serif", "fontSize": 24, "fontWeight": 400, "color": "#111111", "offset": 7},
 "legend": {"labelFont": "Liberation Serif", "labelFontSize": 18, "labelColor": "#111111", "padding": 0, "rowPadding": 2, "symbolSize": 400, "labelAlign": "right", "labelOffset": -29}
}
}
